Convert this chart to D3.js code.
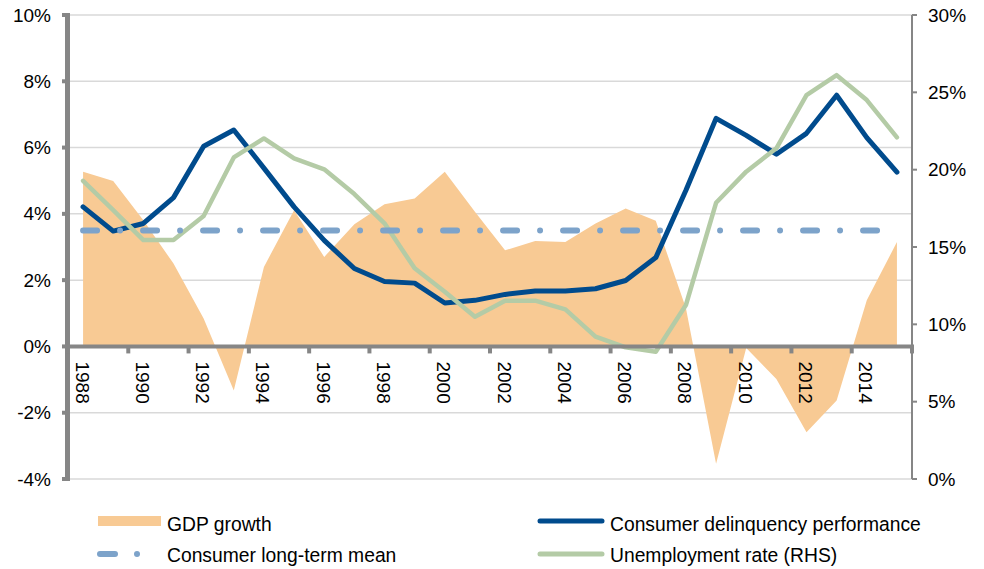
<!DOCTYPE html>
<html><head><meta charset="utf-8">
<script src="https://cdn.jsdelivr.net/npm/d3@7"></script>
<style>
body{margin:0;background:#fff}
svg{display:block}
text{font-family:Arial,"Liberation Sans",sans-serif;fill:#000}
</style>
</head><body>
<svg id="c" width="984" height="569"></svg>
<script>
const years = [1988,1989,1990,1991,1992,1993,1994,1995,1996,1997,1998,1999,2000,2001,2002,2003,2004,2005,2006,2007,2008,2009,2010,2011,2012,2013,2014,2015];
const gdpGrowth = [5.27,4.99,3.81,2.50,0.84,-1.33,2.40,4.11,2.70,3.69,4.29,4.46,5.27,4.06,2.90,3.18,3.15,3.71,4.16,3.79,1.15,-3.54,-0.05,-0.98,-2.59,-1.63,1.39,3.15];
const delinquency = [4.21,3.48,3.71,4.49,6.04,6.53,5.38,4.21,3.20,2.35,1.96,1.91,1.31,1.39,1.57,1.67,1.67,1.74,1.99,2.68,4.71,6.88,6.37,5.80,6.43,7.58,6.30,5.26];
const unemployment = [19.28,17.39,15.45,15.45,17.0,20.79,22.02,20.73,20.02,18.42,16.53,13.62,12.11,10.49,11.53,11.53,10.97,9.20,8.51,8.23,11.25,17.86,19.87,21.38,24.82,26.11,24.50,22.09];
const longTermMean = 3.5;
const leftTicks = [-4,-2,0,2,4,6,8,10];
const rightTicks = [0,5,10,15,20,25,30];
const yearLabels = [1988,1990,1992,1994,1996,1998,2000,2002,2004,2006,2008,2010,2012,2014];
const seriesNames = ["GDP growth","Consumer delinquency performance","Consumer long-term mean","Unemployment rate (RHS)"];

const C = {gdp:"#F8CA94", del:"#004B8D", mean:"#7DA3CA", unemp:"#B4CBA6", axis:"#868686", grid:"#D9D9D9"};
const L = 68, R = 912, T = 15, B = 479;

const svg = d3.select("#c");
const x = d3.scaleBand().domain(years).range([L, R]).padding(0);
const cx = d => x(d) + x.bandwidth()/2;
const yL = d3.scaleLinear().domain([-4,10]).range([B, T]);
const yR = d3.scaleLinear().domain([0,30]).range([B, T]);

// gridlines
svg.append("g").selectAll("line").data(leftTicks.filter(t => t !== 0)).join("line")
  .attr("x1", L).attr("x2", R).attr("y1", d => yL(d)).attr("y2", d => yL(d))
  .attr("stroke", C.grid).attr("stroke-width", 1.5);

// GDP area
const gdpData = years.map((y,i) => ({y, v: gdpGrowth[i]}));
svg.append("path").datum(gdpData)
  .attr("d", d3.area().x(d => cx(d.y)).y0(yL(0)).y1(d => yL(d.v)))
  .attr("fill", C.gdp);

// delinquency line
svg.append("path").datum(years.map((y,i) => ({y, v: delinquency[i]})))
  .attr("d", d3.line().x(d => cx(d.y)).y(d => yL(d.v)))
  .attr("fill","none").attr("stroke", C.del).attr("stroke-width", 5)
  .attr("stroke-linejoin","round").attr("stroke-linecap","round");

// unemployment line (RHS)
svg.append("path").datum(years.map((y,i) => ({y, v: unemployment[i]})))
  .attr("d", d3.line().x(d => cx(d.y)).y(d => yR(d.v)))
  .attr("fill","none").attr("stroke", C.unemp).attr("stroke-width", 4.5)
  .attr("stroke-linejoin","round").attr("stroke-linecap","round");

// long-term mean
svg.append("path").datum(years.map(y => ({y, v: longTermMean})))
  .attr("d", d3.line().x(d => cx(d.y)).y(d => yL(d.v)))
  .attr("fill","none").attr("stroke", C.mean).attr("stroke-width", 6)
  .attr("stroke-linecap","round").attr("stroke-dasharray","14,23,0,23");

// left axis
const la = svg.append("g");
la.append("line").attr("x1", 67.5).attr("x2", 67.5).attr("y1", T-2).attr("y2", B+2)
  .attr("stroke", C.axis).attr("stroke-width", 5);
la.selectAll(".t").data(leftTicks).join("line").attr("class","t")
  .attr("x1", 62).attr("x2", 68).attr("y1", d => yL(d)).attr("y2", d => yL(d))
  .attr("stroke", C.axis).attr("stroke-width", 4);
la.selectAll("text").data(leftTicks).join("text")
  .attr("x", 51).attr("y", d => yL(d)).attr("text-anchor","end").attr("dominant-baseline","central")
  .attr("font-size", 19).text(d => d + "%");

// right axis
const ra = svg.append("g");
ra.append("line").attr("x1", R).attr("x2", R).attr("y1", T).attr("y2", B)
  .attr("stroke", C.axis).attr("stroke-width", 2);
ra.selectAll(".t").data(rightTicks).join("line").attr("class","t")
  .attr("x1", R).attr("x2", R+5).attr("y1", d => yR(d)).attr("y2", d => yR(d))
  .attr("stroke", C.axis).attr("stroke-width", 2);
ra.selectAll("text").data(rightTicks).join("text")
  .attr("x", 928).attr("y", d => yR(d)).attr("text-anchor","start").attr("dominant-baseline","central")
  .attr("font-size", 19).text(d => d + "%");

// x axis at 0
const xa = svg.append("g");
const y0 = yL(0);
xa.append("line").attr("x1", L-2).attr("x2", R+2).attr("y1", y0).attr("y2", y0)
  .attr("stroke", C.axis).attr("stroke-width", 4);
const bounds = years.filter((d,i) => i % 2 === 0).map(d => x(d)).concat([R]);
xa.selectAll(".t").data(bounds).join("line").attr("class","t")
  .attr("x1", d => d).attr("x2", d => d).attr("y1", y0).attr("y2", y0+7)
  .attr("stroke", C.axis).attr("stroke-width", 4);
xa.selectAll("text").data(yearLabels).join("text")
  .attr("transform", d => `translate(${cx(d)-1},${y0+15}) rotate(90)`)
  .attr("text-anchor","start").attr("dominant-baseline","central")
  .attr("font-size", 19).text(d => d);

// legend
const lg = svg.append("g");
lg.append("rect").attr("x", 98).attr("y", 516).attr("width", 63).attr("height", 10).attr("fill", C.gdp);
lg.append("line").attr("x1", 100).attr("x2", 115).attr("y1", 554).attr("y2", 554)
  .attr("stroke", C.mean).attr("stroke-width", 6).attr("stroke-linecap","round");
lg.append("circle").attr("cx", 137).attr("cy", 554).attr("r", 3).attr("fill", C.mean);
lg.append("line").attr("x1", 540).attr("x2", 602).attr("y1", 521).attr("y2", 521)
  .attr("stroke", C.del).attr("stroke-width", 5).attr("stroke-linecap","round");
lg.append("line").attr("x1", 540).attr("x2", 602).attr("y1", 554).attr("y2", 554)
  .attr("stroke", C.unemp).attr("stroke-width", 5).attr("stroke-linecap","round");
const lt = [
  {t: seriesNames[0], x: 167, y: 531},
  {t: seriesNames[1], x: 610, y: 531},
  {t: seriesNames[2], x: 167, y: 562},
  {t: seriesNames[3], x: 610, y: 562}
];
lg.selectAll("text").data(lt).join("text")
  .attr("x", d => d.x).attr("y", d => d.y).attr("font-size", 19.3).text(d => d.t);
</script>
</body></html>
